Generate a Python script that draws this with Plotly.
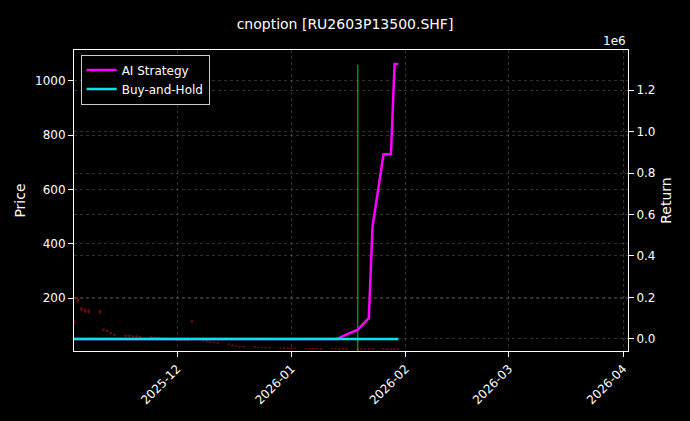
import plotly.graph_objects as go
import pandas as pd

dates = list(pd.bdate_range("2025-11-03", "2026-01-30").strftime("%Y-%m-%d"))
closes = [112, 190, 156, 150, 148, 146, 82, 78, 70, 63, 60, 60, 58, 58, 55, 55, 54, 52, 50, 48,
          45, 44, 44, 43, 112, 42, 40, 38, 36, 34, 30, 26, 22, 20, 20, 20, 18, 18, 17, 17,
          16, 16, 15, 15, 15, 14, 14, 14, 13, 13, 13, 13, 12, 12, 12, 12, 12, 12, 12, 12,
          12, 12, 12, 12, 12]
closes = closes[:len(dates)] + [12] * max(0, len(dates) - len(closes))
opens = [c * 1.04 for c in closes]
highs = [c * 1.08 for c in closes]
lows = [c * 0.96 for c in closes]

ai_dates = ["2025-11-03", "2026-01-13", "2026-01-14", "2026-01-15", "2026-01-16",
            "2026-01-19", "2026-01-20", "2026-01-21", "2026-01-22", "2026-01-23", "2026-01-26",
            "2026-01-27", "2026-01-28", "2026-01-29", "2026-01-30"]
ai_ret = [0, 0, 5000, 12000, 22000, 45000, 65000, 85000, 100000, 540000, 890000,
          890000, 890000, 1325000, 1325000]
bh_dates = ["2025-11-03", "2026-01-30"]
bh_ret = [0, 0]
signal_date = "2026-01-19"

fig = go.Figure()
fig.add_trace(go.Candlestick(x=dates, open=opens, high=highs, low=lows, close=closes,
                             increasing=dict(line=dict(color="#d01010", width=1), fillcolor="#d01010"),
                             decreasing=dict(line=dict(color="#d01010", width=1), fillcolor="#d01010"),
                             opacity=0.55, showlegend=False, yaxis="y"))
fig.add_trace(go.Scatter(x=ai_dates, y=ai_ret, mode="lines", name="AI Strategy",
                         line=dict(color="#ff00ff", width=2.5), yaxis="y2"))
fig.add_trace(go.Scatter(x=bh_dates, y=bh_ret, mode="lines", name="Buy-and-Hold",
                         line=dict(color="#00e5ee", width=2.5), yaxis="y2"))
fig.add_trace(go.Scatter(x=[signal_date, signal_date], y=[5, 1060], mode="lines",
                         line=dict(color="#00b000", width=1.2), showlegend=False, yaxis="y"))

grid = dict(showgrid=True, gridcolor="rgba(110,110,110,0.45)", griddash="dot", gridwidth=0.6,
            zeroline=False, automargin=False)
fig.update_layout(
    width=690, height=421, paper_bgcolor="black", plot_bgcolor="black",
    margin=dict(l=74, r=62, t=50, b=70, autoexpand=False),
    font=dict(family="DejaVu Sans", color="white", size=12),
    title=dict(text="cnoption [RU2603P13500.SHF]", x=0.5, xanchor="center", y=0.955, font=dict(size=14)),
    xaxis=dict(range=["2025-11-03", "2026-04-02 08:00"], rangeslider=dict(visible=False),
               tickvals=["2025-12-01", "2026-01-01", "2026-02-01", "2026-03-01", "2026-04-01"],
               ticktext=["2025-12", "2026-01", "2026-02", "2026-03", "2026-04"],
               tickangle=-45, ticks="outside", tickcolor="white", showline=True, linecolor="white",
               mirror=True, **grid),
    yaxis=dict(range=[5, 1114], title=dict(text="Price", standoff=6), tickvals=[200, 400, 600, 800, 1000],
               ticks="outside", tickcolor="white", showline=True, linecolor="white", **grid),
    yaxis2=dict(range=[-58000, 1393000], overlaying="y", side="right", title=dict(text="Return", standoff=6),
                tickvals=[0, 200000, 400000, 600000, 800000, 1000000, 1200000],
                ticktext=["0.0", "0.2", "0.4", "0.6", "0.8", "1.0", "1.2"],
                ticks="outside", tickcolor="white", showline=True, linecolor="white", **grid),
    legend=dict(x=0.012, y=0.985, xanchor="left", yanchor="top", bgcolor="black",
                bordercolor="#cccccc", borderwidth=1, font=dict(size=12)),
    annotations=[dict(text="1e6", xref="paper", yref="paper", x=1.0, y=1.0, xanchor="right",
                      yanchor="bottom", showarrow=False, font=dict(size=12, color="white"))],
)
fig.write_html("out.html", config={"displayModeBar": False},
               post_script="document.body.style.margin='0';document.body.style.background='black';")
